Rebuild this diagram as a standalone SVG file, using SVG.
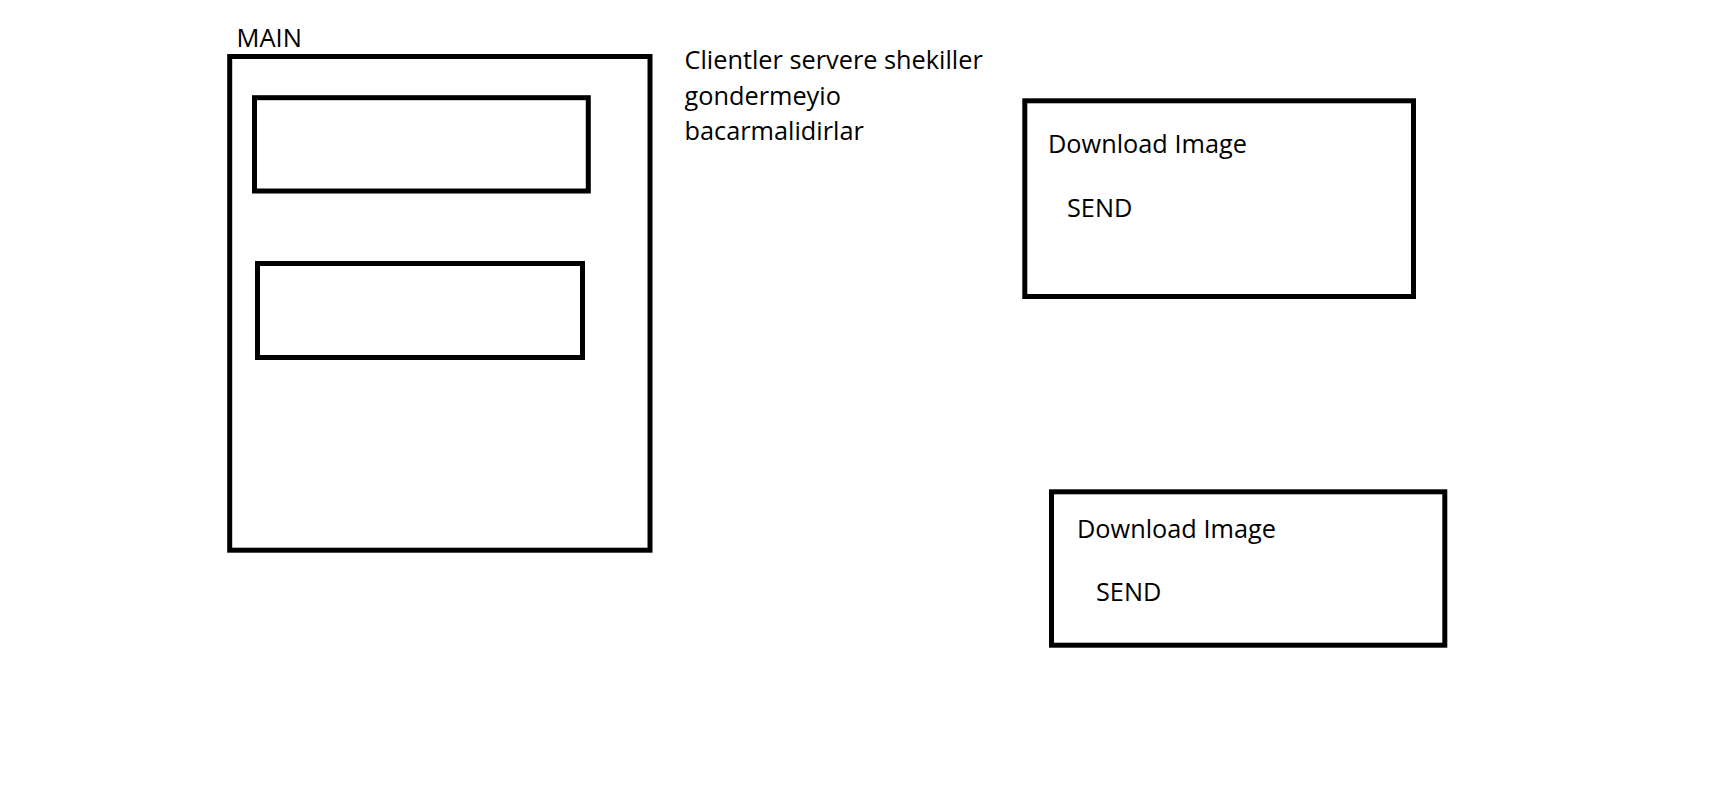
<svg xmlns="http://www.w3.org/2000/svg" width="1735" height="807" viewBox="0 0 1735 807">
<style>
.box{fill:none;stroke:#000;stroke-width:5}
.t{font-family:"Open Sans","Noto Sans",sans-serif;font-size:25.3px;fill:#000}
</style>
<rect width="1735" height="807" fill="#fff"/>
<g id="main">
<text class="t" x="236.5" y="47.3" style="font-size:25.5px">MAIN</text>
<rect class="box" x="229.7" y="56.5" width="420.3" height="493.7"/>
</g>
<g id="field1"><rect class="box" x="254.5" y="97.7" width="333.8" height="93.3"/></g>
<g id="field2"><rect class="box" x="257.5" y="263.5" width="325" height="94"/></g>
<g id="note">
<text class="t" x="684.5" y="69">Clientler servere shekiller</text>
<text class="t" x="684.5" y="104.5">gondermeyio</text>
<text class="t" x="684.5" y="140">bacarmalidirlar</text>
</g>
<g id="client1">
<rect class="box" x="1024.8" y="100.8" width="388.7" height="195.7"/>
<text class="t" x="1048" y="153.3">Download Image</text>
<text class="t" x="1067" y="216.7">SEND</text>
</g>
<g id="client2">
<rect class="box" x="1051.5" y="491.8" width="393.3" height="153.4"/>
<text class="t" x="1077" y="537.7">Download Image</text>
<text class="t" x="1096" y="600.7">SEND</text>
</g>
<g id="connectors"/>
</svg>
